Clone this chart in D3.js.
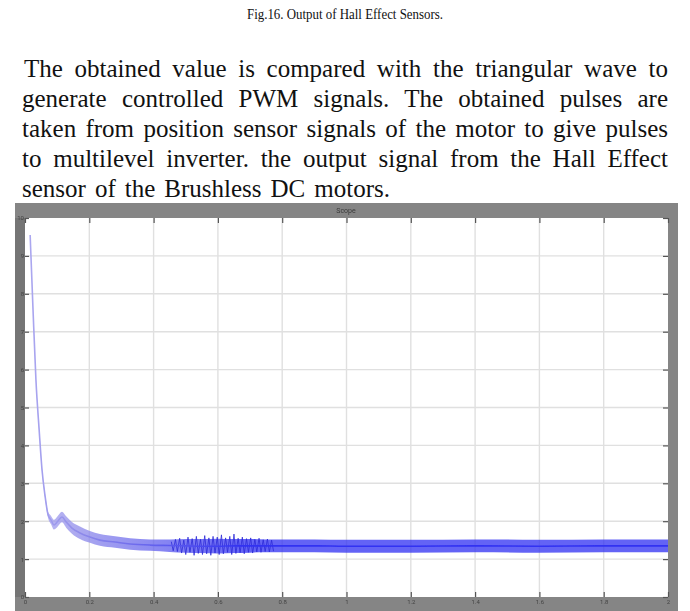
<!DOCTYPE html>
<html>
<head>
<meta charset="utf-8">
<script src="https://cdn.jsdelivr.net/npm/d3@7"></script>
<style>
  body { margin: 0; background: #fff; }
  svg { display: block; }
</style>
</head>
<body>
<div class="canvas"></div>
<script>
const WIDTH = 690;
const HEIGHT = 611;

// text of the page around the figure
const caption = 'Fig.16. Output of Hall Effect Sensors.';
const paragraph = [
  'The obtained value is compared with the triangular wave to',
  'generate controlled PWM signals. The obtained pulses are',
  'taken from position sensor signals of the motor to give pulses',
  'to multilevel inverter. the output signal from the Hall Effect',
  'sensor of the Brushless DC motors.'
];
const scopeTitle = 'Scope';

// tick labels
const xTicks = [0, 0.2, 0.4, 0.6, 0.8, 1, 1.2, 1.4, 1.6, 1.8, 2];
const yTicks = [0, 1, 2, 3, 4, 5, 6, 7, 8, 9, 10];

// signal (time in s)
const timeS = [0.016, 0.025, 0.034, 0.044, 0.053, 0.062, 0.072, 0.081, 0.090, 0.100,
  0.115, 0.128, 0.146, 0.171, 0.202, 0.233, 0.280, 0.327, 0.389, 0.45,
  0.50, 0.55, 0.60, 0.65, 0.70, 0.75, 0.80, 0.90, 1.00, 1.20,
  1.40, 1.60, 1.80, 2.00];
const signalMid = [9.55, 7.57, 5.73, 4.41, 3.35, 2.69, 2.16, 2.03, 1.90, 1.98,
  2.11, 1.98, 1.82, 1.69, 1.58, 1.50, 1.45, 1.40, 1.37, 1.36,
  1.35, 1.34, 1.34, 1.35, 1.35, 1.35, 1.35, 1.35, 1.34, 1.34,
  1.35, 1.34, 1.35, 1.35];
// ripple envelope of the trace
const signalHigh = [9.56, 7.60, 5.77, 4.46, 3.40, 2.75, 2.24, 2.14, 2.04, 2.12,
  2.25, 2.13, 1.98, 1.86, 1.74, 1.66, 1.60, 1.55, 1.52, 1.52,
  1.53, 1.53, 1.54, 1.53, 1.53, 1.52, 1.52, 1.52, 1.51, 1.51,
  1.52, 1.51, 1.52, 1.52];
const signalLow = [9.54, 7.54, 5.69, 4.36, 3.30, 2.63, 2.08, 1.92, 1.78, 1.84,
  1.97, 1.83, 1.67, 1.53, 1.43, 1.35, 1.30, 1.25, 1.22, 1.19,
  1.17, 1.16, 1.15, 1.16, 1.17, 1.18, 1.18, 1.18, 1.17, 1.17,
  1.18, 1.17, 1.18, 1.18];

// the spiky stretch of ripple between 0.45 s and 0.8 s
const spikeT = [0.455, 0.461, 0.468, 0.474, 0.481, 0.487, 0.494, 0.500, 0.507, 0.513,
  0.520, 0.526, 0.533, 0.539, 0.546, 0.552, 0.559, 0.565, 0.572, 0.578,
  0.585, 0.591, 0.598, 0.604, 0.611, 0.617, 0.624, 0.630, 0.637, 0.643,
  0.650, 0.656, 0.663, 0.669, 0.676, 0.682, 0.689, 0.695, 0.702, 0.708,
  0.715, 0.721, 0.728, 0.734, 0.741, 0.747, 0.754, 0.760, 0.767, 0.773];
const spikeV = [1.46, 1.22, 1.52, 1.20, 1.55, 1.16, 1.50, 1.12, 1.58, 1.18,
  1.54, 1.10, 1.60, 1.15, 1.52, 1.12, 1.62, 1.14, 1.56, 1.10,
  1.60, 1.16, 1.58, 1.12, 1.64, 1.14, 1.56, 1.18, 1.60, 1.12,
  1.66, 1.15, 1.55, 1.17, 1.58, 1.14, 1.54, 1.18, 1.56, 1.16,
  1.52, 1.19, 1.55, 1.18, 1.51, 1.20, 1.53, 1.19, 1.50, 1.21];

const data = timeS.map((t, i) => ({
  t, mid: signalMid[i], hi: signalHigh[i], lo: signalLow[i]
}));
const spikes = spikeT.map((t, i) => ({ t, v: spikeV[i] }));

const frame = { left: 15, right: 678, top: 203, bottom: 611 };
const plot = { left: 25, right: 668, top: 218, bottom: 597 };

const svg = d3.select('.canvas')
  .append('svg')
    .attr('width', WIDTH)
    .attr('height', HEIGHT);

const defs = svg.append('defs');
defs.append('filter')
    .attr('id', 'soft')
  .append('feGaussianBlur')
    .attr('stdDeviation', 0.6);

// trace colour goes from pale lavender on the spike to deep blue
const grad = defs.append('linearGradient')
  .attr('id', 'traceGrad')
  .attr('gradientUnits', 'userSpaceOnUse')
  .attr('x1', plot.left).attr('x2', plot.left + 220)
  .attr('y1', 0).attr('y2', 0);
grad.append('stop').attr('offset', 0).attr('stop-color', '#aeaaf0');
grad.append('stop').attr('offset', 0.25).attr('stop-color', '#8e8aea');
grad.append('stop').attr('offset', 1).attr('stop-color', '#3030f2');

// caption and paragraph
const textFont = '"Liberation Serif", "DejaVu Serif", serif';
svg.append('text')
  .attr('x', WIDTH / 2)
  .attr('y', 19)
  .attr('text-anchor', 'middle')
  .attr('font-family', textFont)
  .attr('font-size', 15)
  .attr('fill', '#111')
  .attr('textLength', 196)
  .attr('lengthAdjust', 'spacingAndGlyphs')
  .text(caption);

const lineStart = [24, 22, 22, 22, 22];
const lineEnd = [668, 668, 668, 668, 390];
svg.selectAll('text.para')
  .data(paragraph)
  .enter()
  .append('text')
    .attr('class', 'para')
    .attr('x', (d, i) => lineStart[i])
    .attr('y', (d, i) => 77 + i * 30)
    .attr('font-family', textFont)
    .attr('font-size', 25)
    .attr('fill', '#111')
    .text(d => d)
    .each(function(d, i) {
      // justify: widen word gaps, or squeeze glyphs if the line is too long
      const target = lineEnd[i] - lineStart[i];
      const natural = this.getComputedTextLength();
      const gaps = d.split(' ').length - 1;
      if (natural < target) {
        d3.select(this).attr('word-spacing', (target - natural) / gaps);
      } else {
        d3.select(this)
          .attr('textLength', target)
          .attr('lengthAdjust', 'spacingAndGlyphs');
      }
    });

// scope window
const chart = svg.append('g').attr('filter', 'url(#soft)');

chart.append('rect')
  .attr('x', frame.left)
  .attr('y', frame.top)
  .attr('width', frame.right - frame.left)
  .attr('height', frame.bottom - frame.top)
  .attr('fill', '#858585');

chart.append('rect')
  .attr('x', frame.left)
  .attr('y', plot.top)
  .attr('width', plot.left - frame.left)
  .attr('height', plot.bottom - plot.top)
  .attr('fill', '#747474');

chart.append('rect')
  .attr('x', plot.left)
  .attr('y', plot.top)
  .attr('width', plot.right - plot.left)
  .attr('height', plot.bottom - plot.top)
  .attr('fill', '#ffffff');

chart.append('text')
  .attr('x', 346)
  .attr('y', 213)
  .attr('text-anchor', 'middle')
  .attr('font-family', 'Roboto, sans-serif')
  .attr('font-size', 7)
  .attr('fill', '#3a3a3a')
  .text(scopeTitle);

const x = d3.scaleLinear()
  .domain([0, 2])
  .range([plot.left, plot.right]);

const y = d3.scaleLinear()
  .domain([0, 10])
  .range([plot.bottom, plot.top]);

// grid
const grid = chart.append('g');
grid.selectAll('line.vx')
  .data(xTicks.slice(1, -1))
  .enter()
  .append('line')
    .attr('x1', d => x(d)).attr('x2', d => x(d))
    .attr('y1', plot.top).attr('y2', plot.bottom)
    .attr('stroke', '#e0e0e0')
    .attr('stroke-width', 1.4);
grid.selectAll('line.hy')
  .data(yTicks.slice(1, -1))
  .enter()
  .append('line')
    .attr('x1', plot.left).attr('x2', plot.right)
    .attr('y1', d => y(d)).attr('y2', d => y(d))
    .attr('stroke', '#e0e0e0')
    .attr('stroke-width', 1.4);

// axes: ticks on all four sides, labels on the grey border
const tickStyle = g => {
  g.select('.domain').remove();
  g.selectAll('line').attr('stroke', '#555').attr('stroke-width', 1.2);
  g.selectAll('text')
    .attr('fill', '#444')
    .attr('font-family', 'Roboto, sans-serif')
    .attr('font-size', 6);
};

chart.append('g')
  .attr('transform', `translate(0,${plot.bottom})`)
  .call(d3.axisBottom(x).tickValues(xTicks).tickSize(-5).tickPadding(3)
    .tickFormat(d3.format('~g')))
  .call(tickStyle);

chart.append('g')
  .attr('transform', `translate(0,${plot.top})`)
  .call(d3.axisTop(x).tickValues(xTicks).tickSize(-5).tickFormat(''))
  .call(tickStyle);

chart.append('g')
  .attr('transform', `translate(${plot.left},0)`)
  .call(d3.axisLeft(y).tickValues(yTicks).tickSize(-4).tickPadding(1)
    .tickFormat(d3.format('~g')))
  .call(tickStyle);

chart.append('g')
  .attr('transform', `translate(${plot.right},0)`)
  .call(d3.axisRight(y).tickValues(yTicks).tickSize(-5).tickFormat(''))
  .call(tickStyle);

// trace: ripple band, spiky stretch, then centre line
const band = d3.area()
  .x(d => x(d.t))
  .y0(d => y(d.lo))
  .y1(d => y(d.hi))
  .curve(d3.curveMonotoneX);

chart.append('path')
  .datum(data)
  .attr('d', band)
  .attr('fill', 'url(#traceGrad)')
  .attr('opacity', 0.75);

chart.append('path')
  .datum(spikes)
  .attr('d', d3.line().x(d => x(d.t)).y(d => y(d.v)))
  .attr('fill', 'none')
  .attr('stroke', '#2c2ad8')
  .attr('stroke-width', 0.8);

const trace = d3.line()
  .x(d => x(d.t))
  .y(d => y(d.mid))
  .curve(d3.curveMonotoneX);

chart.append('path')
  .datum(data)
  .attr('d', trace)
  .attr('fill', 'none')
  .attr('stroke', 'url(#traceGrad)')
  .attr('stroke-width', 1.6);
</script>
</body>
</html>
